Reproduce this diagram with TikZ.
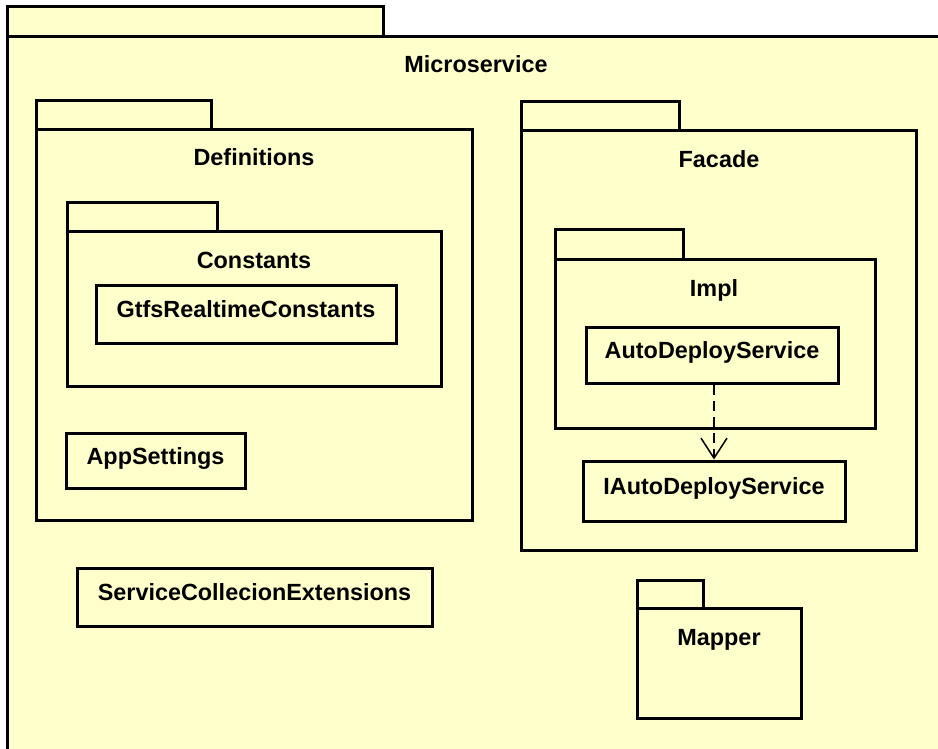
\documentclass[tikz,border=0pt]{standalone}
\usepackage{fontspec}
\setmainfont{Liberation Sans}
\usetikzlibrary{arrows.meta}
\definecolor{pkgfill}{HTML}{FFFFCC}
\tikzset{
  pkgline/.style={draw=black, line width=3pt, fill=pkgfill},
  title/.style={anchor=base, inner sep=0pt, font=\fontsize{23.4}{28}\selectfont\bfseries},
  classbox/.style={draw=black, line width=3pt, fill=pkgfill, inner sep=0pt,
    text height=17pt, text depth=11pt,
    font=\fontsize{23.4}{28}\selectfont\bfseries},
  depend/.style={line width=1.5pt, dash pattern=on 10pt off 6pt,
    -{Straight Barb[length=20pt, width=26pt, line width=1.5pt]}}
}
\begin{document}
\begin{tikzpicture}[x=1pt, y=-1pt]
  \useasboundingbox (0,0) rectangle (938,749);
  \fill[white] (0,0) rectangle (938,749);
  \clip (0,0) rectangle (938,749);

  % Microservice package (runs past the right and bottom edges)
  \draw[pkgline] (7,7) rectangle (383,37);
  \draw[pkgline] (7,37) rectangle (960,770);
  \node[title] (tMicro) at (476,73) {Microservice};

  % Definitions package
  \draw[pkgline] (36,101) rectangle (211,130);
  \draw[pkgline] (36,130) rectangle (472,520);
  \node[title] (tDefs) at (254,166) {Definitions};

  % Constants package
  \draw[pkgline] (67,203) rectangle (217,232);
  \draw[pkgline] (67,232) rectangle (441,386);
  \node[title] (tConst) at (254,268) {Constants};
  \node[classbox, minimum width=300pt, minimum height=58pt] (gtfs) at (246,314.5) {GtfsRealtimeConstants};

  \node[classbox, minimum width=179pt, minimum height=55pt] (appset) at (155.5,461) {AppSettings};

  \node[classbox, minimum width=355pt, minimum height=58pt] (svcext) at (254.5,597.5) {ServiceCollecionExtensions};

  % Facade package
  \draw[pkgline] (521,102) rectangle (679,131);
  \draw[pkgline] (521,131) rectangle (916,550);
  \node[title] (tFacade) at (719,168) {Facade};

  % Impl package
  \draw[pkgline] (555,230) rectangle (683,259);
  \draw[pkgline] (555,259) rectangle (875,428);
  \node[title] (tImpl) at (714,296) {Impl};
  \node[classbox, minimum width=252pt, minimum height=56pt] (auto) at (712,355.5) {AutoDeployService};

  \node[classbox, minimum width=262pt, minimum height=60pt] (iauto) at (714,491) {IAutoDeployService};

  % realization / dependency
  \draw[depend] (auto.south -| 714,0) -- (iauto.north -| 714,0);

  % Mapper package
  \draw[pkgline] (637,580) rectangle (703,608);
  \draw[pkgline] (637,608) rectangle (801,718);
  \node[title] (tMapper) at (719,645) {Mapper};
\end{tikzpicture}
\end{document}
